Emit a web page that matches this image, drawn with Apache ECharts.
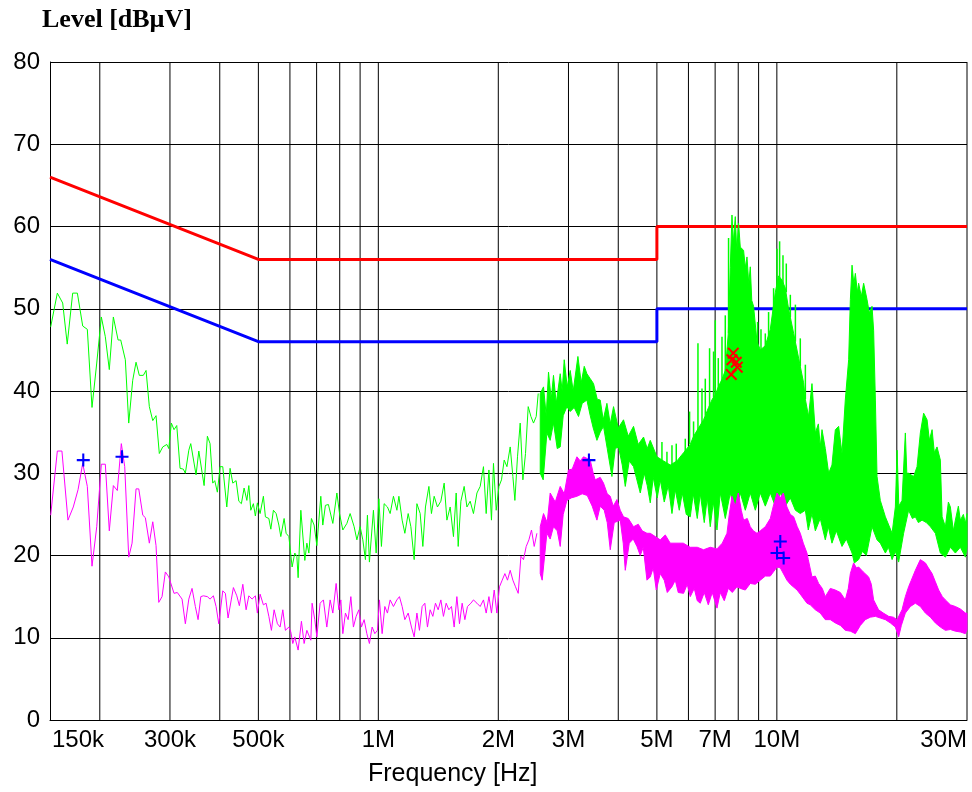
<!DOCTYPE html>
<html>
<head>
<meta charset="utf-8">
<script src="https://cdn.jsdelivr.net/npm/echarts@6/dist/echarts.min.js"></script>
<style>
html,body{margin:0;padding:0;background:#fff;}
#chart{width:972px;height:792px;}
</style>
</head>
<body>
<div id="chart"></div>
<script>
// Frequencies in MHz, levels in dBµV
const tickFreqs = [0.15, 0.3, 0.5, 1, 2, 3, 5, 7, 10, 30];
const tickLabels = ['150k', '300k', '500k', '1M', '2M', '3M', '5M', '7M', '10M', '30M'];
const gridFreqs = [0.2, 0.3, 0.4, 0.5, 0.6, 0.7, 0.8, 0.9, 1, 2, 3, 4, 5, 6, 7, 8, 9, 10, 20, 30];

const qpLimit = [[0.15, 66], [0.5, 56], [5, 56], [5, 60], [30, 60]];
const avLimit = [[0.15, 56], [0.5, 46], [5, 46], [5, 50], [30, 50]];

// Peak trace (green), sparse part
const peakLine = [[0.1506,47.8],[0.1565,51.9],[0.1614,50.7],[0.1657,45.7],[0.1710,51.9],[0.1757,51.9],[0.1812,47.9],[0.1861,47.5],[0.1912,38.0],[0.1965,43.4],[0.2018,49.0],[0.2065,46.6],[0.2113,42.6],[0.2163,49.0],[0.2223,46.2],[0.2257,46.2],[0.2318,43.8],[0.2364,36.1],[0.2419,41.3],[0.2466,43.5],[0.2513,41.9],[0.2572,41.9],[0.2613,42.5],[0.2663,38.1],[0.2716,36.4],[0.2768,37.0],[0.2821,32.4],[0.2877,33.2],[0.2946,33.5],[0.2980,33.0],[0.3024,36.1],[0.3071,35.3],[0.3120,35.8],[0.3180,30.6],[0.3241,30.5],[0.3279,30.0],[0.3345,32.8],[0.3383,33.6],[0.3422,33.5],[0.3488,29.8],[0.3544,32.7],[0.3585,32.7],[0.3654,28.5],[0.3681,28.4],[0.3724,34.5],[0.3782,33.6],[0.3841,28.8],[0.3886,29.1],[0.3945,27.7],[0.4007,30.8],[0.4070,30.8],[0.4166,25.9],[0.4246,30.6],[0.4313,28.8],[0.4396,29.1],[0.4466,26.6],[0.4533,26.3],[0.4604,28.2],[0.4678,26.7],[0.4732,28.5],[0.4786,25.5],[0.4858,26.3],[0.4914,24.8],[0.4971,26.4],[0.5050,25.1],[0.5147,27.2],[0.5207,24.7],[0.5312,24.5],[0.5373,23.2],[0.5454,25.5],[0.5540,25.1],[0.5628,23.7],[0.5692,22.3],[0.5802,24.5],[0.5869,22.7],[0.5963,22.3],[0.6031,22.4],[0.6076,18.6],[0.6171,20.3],[0.6245,19.9],[0.6291,17.3],[0.6390,25.5],[0.6438,25.5],[0.6539,19.4],[0.6617,21.5],[0.6694,20.3],[0.6793,24.5],[0.6900,23.7],[0.7010,21.2],[0.7172,27.2],[0.7255,23.7],[0.7365,26.1],[0.7494,26.2],[0.7688,23.9],[0.7870,27.6],[0.7991,25.1],[0.8145,23.1],[0.8338,23.9],[0.8496,25.1],[0.8695,23.5],[0.8834,21.9],[0.9001,23.5],[0.9142,21.9],[0.9281,19.5],[0.9389,24.9],[0.9497,19.2],[0.9720,25.5],[0.9874,20.3],[1.0031,26.9],[1.0180,21.1],[1.0340,26.3],[1.0540,25.9],[1.0706,25.1],[1.0912,27.2],[1.1132,25.5],[1.1261,27.2],[1.1475,24.3],[1.1655,22.7],[1.1881,25.1],[1.2067,23.5],[1.2299,19.5],[1.2496,26.3],[1.2733,25.1],[1.2933,21.1],[1.3129,25.9],[1.3393,28.4],[1.3591,25.1],[1.3806,27.2],[1.4071,25.9],[1.4352,26.6],[1.4627,28.8],[1.4862,24.3],[1.5144,25.9],[1.5435,22.3],[1.5679,27.6],[1.5862,21.1],[1.6111,26.6],[1.6420,28.4],[1.6684,25.9],[1.7000,26.6],[1.7326,25.1],[1.7677,27.6],[1.8011,28.4],[1.8357,30.8],[1.8647,25.1],[1.8944,30.4],[1.9226,24.3],[1.9449,31.2],[1.9757,25.5],[2.0072,28.4],[2.0371,29.2],[2.0692,31.6],[2.1024,30.8],[2.1422,33.2],[2.1758,29.6],[2.2011,26.7],[2.2345,32.0],[2.2697,36.1],[2.3053,29.2],[2.3403,32.4],[2.3773,38.1],[2.4147,36.9],[2.4510,36.1],[2.4897,36.9],[2.5188,39.7]];

// Peak trace (green), dense part: upper (bulk) and lower envelopes
const peakBandTop = [[2.548,39.7],[2.597,40.5],[2.638,37.0],[2.673,42.3],[2.715,39.0],[2.751,41.9],[2.795,38.5],[2.860,42.1],[2.893,40.0],[2.927,43.8],[2.978,40.5],[3.030,42.5],[3.083,40.0],[3.168,44.2],[3.229,41.0],[3.286,43.0],[3.337,42.1],[3.402,41.5],[3.467,40.9],[3.542,39.0],[3.604,38.9],[3.667,36.5],[3.746,38.5],[3.819,36.0],[3.892,38.1],[4.000,35.5],[4.123,36.5],[4.237,34.5],[4.369,35.7],[4.490,33.5],[4.629,34.4],[4.729,33.0],[4.812,34.0],[5.002,32.0],[5.196,31.5],[5.401,31.0],[5.615,31.5],[5.833,32.5],[6.063,33.5],[6.180,34.5],[6.361,35.5],[6.547,36.5],[6.740,38.0],[6.885,39.0],[7.007,39.5],[7.129,40.5],[7.295,41.5],[7.423,42.5],[7.553,47.0],[7.641,55.0],[7.716,61.4],[7.774,58.0],[7.865,61.2],[7.933,57.0],[8.016,60.4],[8.095,57.5],[8.251,57.1],[8.333,55.0],[8.415,56.3],[8.502,53.0],[8.577,55.1],[8.651,51.0],[8.741,50.3],[8.915,46.0],[9.087,45.0],[9.354,45.5],[9.628,47.5],[9.911,52.0],[10.10,54.0],[10.30,53.5],[10.50,52.5],[10.70,50.0],[11.02,47.0],[11.34,44.0],[11.67,41.0],[11.79,39.0],[12.01,36.9],[12.25,40.9],[12.49,34.9],[12.71,36.0],[12.85,33.2],[12.98,35.3],[13.23,33.0],[13.49,30.0],[13.75,31.0],[14.02,35.3],[14.29,35.7],[14.57,32.4],[14.85,38.9],[15.14,43.8],[15.29,51.1],[15.44,55.3],[15.60,53.0],[15.74,54.3],[15.92,52.0],[16.04,53.1],[16.29,51.5],[16.51,53.1],[16.84,51.1],[17.06,49.5],[17.33,50.3],[17.49,47.4],[17.67,38.9],[17.84,29.6],[18.18,26.7],[18.72,24.7],[19.46,22.7],[19.83,25.9],[20.03,32.8],[20.23,26.0],[20.61,26.7],[21.01,34.9],[21.19,30.0],[21.41,30.0],[22.04,29.6],[22.48,30.8],[22.91,34.9],[23.35,37.3],[23.82,36.5],[24.14,34.0],[24.52,35.3],[24.84,32.5],[25.23,33.2],[25.72,31.6],[25.98,24.7],[26.48,23.5],[26.94,26.5],[27.25,25.9],[27.73,23.0],[28.05,24.3],[28.54,26.0],[28.87,24.3],[29.38,25.0],[29.72,23.9],[30.0,25.1]];
const peakBandBottom = [[2.548,30.0],[2.592,29.2],[2.648,34.9],[2.699,34.0],[2.751,36.1],[2.811,33.0],[2.860,33.2],[2.910,37.0],[2.973,38.1],[3.030,37.5],[3.101,38.0],[3.179,36.9],[3.248,38.5],[3.337,38.9],[3.402,37.0],[3.461,35.5],[3.536,34.0],[3.604,35.0],[3.673,35.7],[3.753,33.0],[3.856,29.6],[3.931,33.0],[4.006,33.2],[4.093,31.0],[4.165,28.4],[4.262,31.5],[4.369,30.8],[4.438,29.5],[4.542,27.6],[4.648,30.0],[4.729,28.5],[4.812,26.4],[4.896,29.5],[5.010,27.0],[5.098,29.2],[5.217,26.5],[5.340,28.5],[5.455,25.1],[5.560,28.0],[5.690,25.5],[5.789,27.6],[5.925,25.0],[6.063,24.7],[6.169,27.5],[6.314,24.5],[6.424,27.5],[6.574,24.0],[6.689,27.0],[6.806,23.5],[6.926,26.5],[7.075,23.1],[7.211,27.6],[7.423,24.5],[7.641,27.6],[7.865,25.0],[8.095,27.6],[8.333,25.5],[8.577,27.6],[8.829,25.5],[9.087,27.6],[9.354,26.0],[9.628,27.6],[9.911,26.0],[10.20,27.6],[10.50,26.0],[10.81,27.0],[11.13,25.5],[11.45,25.1],[11.79,25.5],[11.99,23.1],[12.25,25.1],[12.49,23.0],[12.85,24.5],[13.23,21.9],[13.46,23.5],[13.75,21.5],[14.10,23.0],[14.57,21.1],[14.94,22.0],[15.44,20.3],[15.65,19.1],[16.04,19.5],[16.39,20.5],[16.77,20.0],[17.33,23.5],[17.84,21.9],[18.18,21.5],[18.72,20.3],[19.05,21.0],[19.46,19.5],[19.83,20.5],[20.21,19.2],[20.80,22.7],[21.41,25.5],[21.88,24.5],[22.26,24.7],[22.65,24.0],[23.14,24.3],[23.72,24.0],[24.28,23.5],[24.99,22.7],[25.72,20.3],[26.48,19.8],[27.25,21.0],[28.05,20.3],[28.87,21.0],[29.72,19.8],[30.0,21.0]];
// Peak trace needles rising above the bulk: [freq, from, to]
const peakNeedles = [[5.148,31.0,33.8],[5.299,31.0,32.6],[5.455,31.0,33.4],[5.592,31.0,33.6],[5.891,32.5,34.2],[6.039,33.5,37.5],[6.180,34.0,36.3],[6.339,35.0,45.8],[6.488,36.0,40.3],[6.613,37.0,41.5],[6.779,38.0,45.2],[6.937,39.0,44.8],[7.007,39.0,48.6],[7.129,40.0,44.0],[7.283,41.0,46.6],[7.423,42.0,49.2],[7.565,47.0,58.6],[8.946,45.0,48.4],[9.124,45.0,47.5],[9.354,45.0,47.0],[9.533,46.0,49.6],[9.813,49.0,52.5],[10.01,52.0,57.3],[10.16,53.0,58.2],[10.36,53.0,56.5],[10.56,52.0,55.5],[10.81,49.0,51.7],[11.13,46.0,50.5],[11.45,43.0,46.4],[11.79,39.0,43.2]];

// Average trace (magenta), sparse part
const avgLine = [[0.1506,24.9],[0.1565,32.7],[0.1607,32.7],[0.1664,24.3],[0.1716,25.9],[0.1764,28.0],[0.1812,31.2],[0.1861,28.4],[0.1912,18.7],[0.1965,23.5],[0.2018,31.1],[0.2065,31.1],[0.2113,23.0],[0.2163,28.5],[0.2213,27.9],[0.2265,33.6],[0.2310,30.8],[0.2364,19.8],[0.2410,21.5],[0.2466,28.1],[0.2505,28.1],[0.2564,24.9],[0.2602,24.6],[0.2663,21.5],[0.2716,24.1],[0.2768,21.2],[0.2812,14.3],[0.2866,15.0],[0.2921,18.0],[0.2980,17.4],[0.3013,17.5],[0.3071,15.4],[0.3130,15.5],[0.3217,14.7],[0.3279,11.7],[0.3345,14.7],[0.3408,16.0],[0.3474,13.8],[0.3529,12.2],[0.3585,15.0],[0.3639,15.1],[0.3724,15.0],[0.3782,14.7],[0.3855,15.1],[0.3916,13.8],[0.3977,11.7],[0.4070,15.7],[0.4132,15.4],[0.4197,12.4],[0.4278,14.7],[0.4328,16.1],[0.4414,15.1],[0.4480,13.9],[0.4570,16.5],[0.4658,13.4],[0.4732,15.1],[0.4821,14.7],[0.4914,15.1],[0.4971,13.0],[0.5050,15.3],[0.5147,14.0],[0.5228,14.2],[0.5312,12.6],[0.5391,10.9],[0.5476,13.4],[0.5582,11.7],[0.5669,11.3],[0.5758,13.4],[0.5845,10.9],[0.5963,11.3],[0.6031,10.7],[0.6100,9.3],[0.6171,10.1],[0.6291,8.5],[0.6412,12.0],[0.6513,9.3],[0.6617,10.9],[0.6770,9.7],[0.6820,14.2],[0.6927,12.2],[0.7010,10.1],[0.7143,14.2],[0.7280,14.6],[0.7425,11.3],[0.7569,14.6],[0.7688,13.0],[0.7836,16.6],[0.7959,13.4],[0.8052,14.6],[0.8145,10.5],[0.8268,13.0],[0.8399,12.2],[0.8531,15.0],[0.8659,11.3],[0.8796,12.6],[0.8934,13.4],[0.9069,11.3],[0.9212,12.2],[0.9357,10.5],[0.9497,9.3],[0.9648,11.3],[0.9799,10.5],[0.9948,10.9],[1.0064,14.6],[1.0221,10.5],[1.0382,13.8],[1.0540,13.0],[1.0706,14.6],[1.0912,13.8],[1.1129,14.6],[1.1297,15.0],[1.1475,13.8],[1.1655,12.2],[1.1881,13.0],[1.2108,11.3],[1.2299,10.1],[1.2496,13.0],[1.2681,10.9],[1.2881,13.8],[1.3083,14.2],[1.3282,11.3],[1.3490,13.4],[1.3702,12.6],[1.3910,14.2],[1.4129,13.4],[1.4352,14.6],[1.4567,12.6],[1.4798,14.2],[1.5029,13.4],[1.5258,13.8],[1.5498,11.3],[1.5742,15.0],[1.5980,11.7],[1.6231,14.2],[1.6486,12.2],[1.6737,13.8],[1.7070,14.2],[1.7326,14.6],[1.7677,14.2],[1.8011,13.8],[1.8357,14.6],[1.8647,13.0],[1.8944,15.0],[1.9226,13.0],[1.9530,15.8],[1.9837,13.0],[2.0136,16.2],[2.0454,17.0],[2.0775,17.8],[2.1090,17.0],[2.1422,18.2],[2.1758,17.0],[2.2088,16.2],[2.2437,15.4],[2.2790,19.9],[2.3133,19.5],[2.3498,21.1],[2.3866,21.9],[2.4228,23.1],[2.4611,21.1],[2.4998,22.7]];

// Average trace (magenta), dense part: upper and lower envelopes
const avgBandTop = [[2.548,23.5],[2.597,25.1],[2.653,24.0],[2.699,27.6],[2.779,26.5],[2.860,28.4],[2.927,27.5],[3.000,30.4],[3.065,30.5],[3.150,32.0],[3.211,31.5],[3.272,32.0],[3.343,31.8],[3.402,31.6],[3.461,30.0],[3.501,29.2],[3.604,29.5],[3.673,28.8],[3.753,27.5],[3.819,27.2],[3.885,26.0],[3.969,26.8],[4.046,25.5],[4.123,24.7],[4.237,24.5],[4.369,23.5],[4.490,23.8],[4.594,23.0],[4.721,22.7],[4.812,22.7],[4.953,22.3],[5.098,21.9],[5.248,22.5],[5.401,21.5],[5.615,21.5],[5.823,21.5],[6.063,21.0],[6.314,21.0],[6.547,20.7],[6.806,21.0],[7.075,20.8],[7.295,21.5],[7.496,22.7],[7.596,25.0],[7.716,27.2],[7.865,26.0],[8.003,27.6],[8.142,25.5],[8.251,24.3],[8.429,24.5],[8.577,23.5],[8.727,23.0],[8.915,22.7],[9.087,23.0],[9.354,23.5],[9.628,24.5],[9.796,26.0],[10.01,27.6],[10.20,27.0],[10.38,27.6],[10.60,25.9],[10.81,25.0],[11.02,24.7],[11.25,23.5],[11.45,22.7],[11.65,21.5],[11.90,20.3],[11.99,19.5],[12.25,17.4],[12.49,17.5],[12.73,16.6],[13.00,16.0],[13.23,15.0],[13.62,16.0],[14.02,15.8],[14.43,15.5],[14.85,14.6],[15.11,16.0],[15.29,17.8],[15.58,19.1],[15.83,18.5],[16.04,18.6],[16.48,18.0],[16.99,17.4],[17.26,16.5],[17.49,14.6],[18.00,13.4],[18.50,13.0],[19.08,12.6],[19.60,12.5],[20.03,12.2],[20.61,13.4],[21.01,15.0],[21.41,16.2],[21.75,17.0],[22.26,18.2],[22.91,19.5],[23.59,19.1],[24.00,18.5],[24.52,17.8],[24.99,16.8],[25.47,15.8],[26.02,15.0],[26.48,14.6],[27.25,14.0],[28.05,13.8],[28.87,13.5],[29.72,13.0],[30.0,13.0]];
const avgBandBottom = [[2.548,17.8],[2.577,17.0],[2.648,22.7],[2.699,22.0],[2.751,23.5],[2.811,23.0],[2.860,21.1],[2.910,25.0],[2.973,26.7],[3.048,27.0],[3.150,27.2],[3.248,27.5],[3.343,27.3],[3.441,26.0],[3.536,24.3],[3.604,26.0],[3.688,25.5],[3.753,24.0],[3.819,20.7],[3.908,24.0],[4.046,24.3],[4.116,21.5],[4.165,18.2],[4.262,21.5],[4.361,22.0],[4.456,21.1],[4.542,20.0],[4.621,21.0],[4.721,17.0],[4.812,17.4],[4.896,18.5],[4.982,15.8],[5.098,17.8],[5.217,17.0],[5.309,15.5],[5.455,16.2],[5.560,17.0],[5.657,15.5],[5.833,15.4],[5.959,16.5],[6.063,15.0],[6.205,16.0],[6.314,14.5],[6.424,14.2],[6.574,15.5],[6.729,14.0],[6.885,15.5],[7.075,13.6],[7.211,15.5],[7.380,14.5],[7.553,16.0],[7.729,15.5],[7.942,16.2],[8.095,16.0],[8.333,15.8],[8.577,16.6],[8.829,16.5],[9.087,17.0],[9.354,17.5],[9.628,17.5],[10.01,18.6],[10.20,18.5],[10.60,17.0],[10.81,16.5],[11.24,15.8],[11.45,15.3],[11.90,14.2],[12.13,14.0],[12.49,13.4],[12.85,13.0],[13.23,12.2],[13.62,12.2],[14.02,11.8],[14.43,11.5],[14.85,10.9],[15.29,10.8],[15.74,10.5],[16.20,11.5],[16.67,12.2],[17.16,12.5],[17.67,12.6],[18.18,12.4],[18.72,12.2],[19.27,11.8],[19.83,11.3],[20.21,10.1],[20.53,11.5],[21.01,13.0],[21.63,13.8],[22.26,14.2],[22.91,13.8],[23.59,13.0],[24.28,12.5],[24.99,11.8],[25.72,11.3],[26.48,10.9],[27.25,11.0],[28.05,10.8],[28.87,10.7],[29.72,10.5],[30.0,11.0]];

// Final measurement markers
const avgMarkers = [[0.1818,31.6],[0.2274,32.0],[3.376,31.6],[10.20,21.7],[10.01,20.3],[10.40,19.7]];
const peakMarkers = [[7.774,44.6],[7.716,43.8],[7.910,43.5],[7.956,42.9],[7.685,42.0]];

const SANS = '"Liberation Sans", Arial, sans-serif';

function bandSeries(name, top, bottom, color, z) {
  return {
    type: 'custom', name: name, z: z, silent: true,
    data: [top[0]],
    renderItem: function (params, api) {
      const pts = top.map(p => api.coord(p))
        .concat(bottom.slice().reverse().map(p => api.coord(p)));
      return {
        type: 'polygon',
        shape: { points: pts },
        style: { fill: color, stroke: color, lineWidth: 1 }
      };
    }
  };
}

const chart = echarts.init(document.getElementById('chart'), null, { renderer: 'canvas' });

const option = {
  animation: false,
  backgroundColor: '#ffffff',
  grid: { left: 50, top: 62, right: 5, bottom: 72, outerBoundsMode: 'none' },
  xAxis: {
    type: 'log', logBase: 10, min: 0.15, max: 30,
    axisLine: { show: true, onZero: false, lineStyle: { color: '#000', width: 1 } },
    axisTick: { show: false },
    axisLabel: { show: false },
    splitLine: { show: false },
    minorTick: { show: false },
    minorSplitLine: { show: false }
  },
  yAxis: {
    type: 'value', min: 0, max: 80, interval: 10,
    axisLine: { show: true, onZero: false, lineStyle: { color: '#000', width: 1 } },
    axisTick: { show: false },
    axisLabel: { color: '#000', fontSize: 24, fontFamily: SANS, margin: 10 },
    splitLine: { show: true, lineStyle: { color: '#000', width: 1 } }
  },
  graphic: [
    { type: 'text', left: 42, top: 7,
      style: { text: 'Level [dBµV]', fill: '#000', font: 'bold 26px "Liberation Serif", "Times New Roman", serif' } },
    { type: 'text', left: 368, top: 762,
      style: { text: 'Frequency [Hz]', fill: '#000', font: '25px ' + SANS } }
  ],
  series: [
    {
      type: 'custom', name: 'vgrid', z: 1, silent: true,
      data: gridFreqs.map(f => [f, 0]),
      renderItem: function (params, api) {
        const cs = params.coordSys;
        const x = api.coord([api.value(0), 0])[0];
        return {
          type: 'line',
          shape: { x1: x, y1: cs.y, x2: x, y2: cs.y + cs.height },
          style: { stroke: '#000', lineWidth: 1 }
        };
      }
    },
    {
      type: 'custom', name: 'xlabels', z: 1, silent: true,
      data: tickFreqs.map((f, i) => [f, 0, i]),
      renderItem: function (params, api) {
        const i = api.value(2);
        const p = api.coord([api.value(0), 0]);
        const last = tickFreqs.length - 1;
        const al = i === 0 ? 'left' : (i === last ? 'right' : 'center');
        return {
          type: 'text',
          x: p[0] + (i === 0 ? 2 : 0),
          y: p[1] + 20,
          style: {
            text: tickLabels[i], fill: '#000', font: '24px ' + SANS,
            align: al, verticalAlign: 'middle',
            textAlign: al, textVerticalAlign: 'middle'
          }
        };
      }
    },
    {
      type: 'line', name: 'QP limit', data: qpLimit, z: 2,
      symbol: 'none', lineStyle: { color: '#ff0000', width: 3 }
    },
    {
      type: 'line', name: 'AV limit', data: avLimit, z: 2,
      symbol: 'none', lineStyle: { color: '#0000ff', width: 3 }
    },
    bandSeries('Peak dense', peakBandTop, peakBandBottom, '#00ff00', 3),
    {
      type: 'custom', name: 'Peak needles', z: 3, silent: true,
      data: peakNeedles,
      renderItem: function (params, api) {
        const a = api.coord([api.value(0), api.value(1)]);
        const b = api.coord([api.value(0), api.value(2)]);
        return {
          type: 'line',
          shape: { x1: a[0], y1: a[1], x2: b[0], y2: b[1] },
          style: { stroke: '#00ff00', lineWidth: 1.5 }
        };
      }
    },
    {
      type: 'line', name: 'Peak', data: peakLine, z: 3,
      symbol: 'none', lineStyle: { color: '#00ff00', width: 1 }
    },
    bandSeries('Average dense', avgBandTop, avgBandBottom, '#ff00ff', 4),
    {
      type: 'line', name: 'Average', data: avgLine, z: 4,
      symbol: 'none', lineStyle: { color: '#ff00ff', width: 1 }
    },
    {
      type: 'scatter', name: 'AV final', data: avgMarkers, z: 5, clip: false,
      symbol: 'path://M4.2,0L5.8,0L5.8,10L4.2,10Z M0,4.2L10,4.2L10,5.8L0,5.8Z',
      symbolSize: 13, itemStyle: { color: '#0000ff', opacity: 1 }
    },
    {
      type: 'scatter', name: 'QP final', data: peakMarkers, z: 5, clip: false,
      symbol: 'path://M0,1.2L1.2,0L5,3.8L8.8,0L10,1.2L6.2,5L10,8.8L8.8,10L5,6.2L1.2,10L0,8.8L3.8,5Z',
      symbolSize: 12, itemStyle: { color: '#ff0000', opacity: 1 }
    }
  ]
};

chart.setOption(option);
</script>
</body>
</html>
